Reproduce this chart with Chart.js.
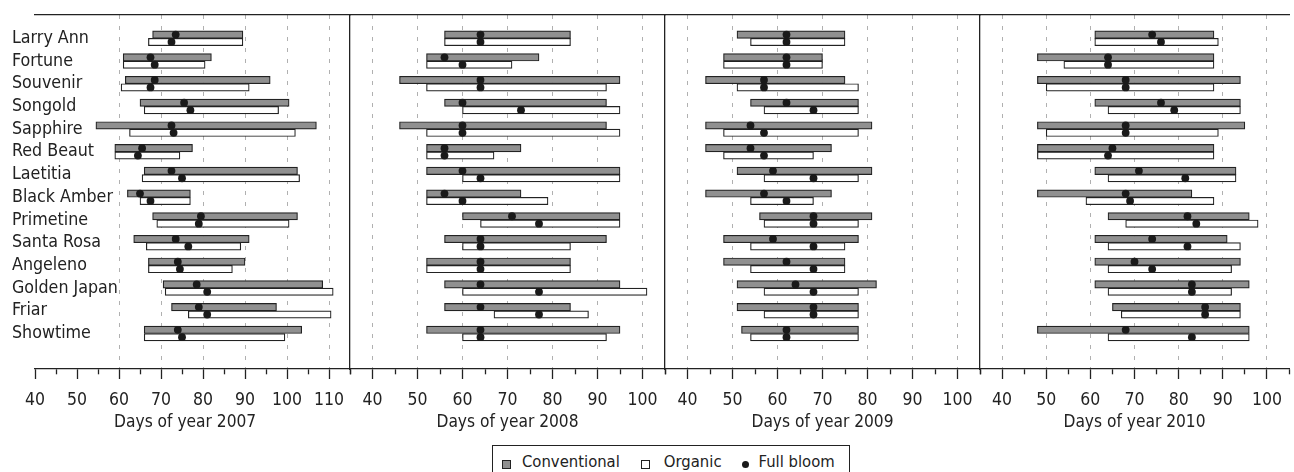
<!DOCTYPE html>
<html>
<head>
<meta charset="utf-8">
<script src="https://cdn.jsdelivr.net/npm/chart.js@4"></script>
<style>
  html, body { margin: 0; padding: 0; background: #fff; overflow: hidden; }
  #wrap { position: relative; width: 1294px; height: 472px; overflow: hidden; }
  #wrap canvas { position: absolute; left: 0; top: 0; }
  #legend {
    position: absolute; left: 492px; top: 445px; width: 358px; height: 32px;
    border: 1px solid #222; box-sizing: border-box; background: #fff;
    color: #222; display: flex; align-items: center; white-space: nowrap;
  }
  #legend span { flex-shrink: 0; }
  #legend .sq { width: 7px; height: 7px; border: 1px solid #222; position: relative; top: 3px; }
  #legend .dot { width: 7px; height: 7px; border-radius: 50%; background: #1a1a1a; position: relative; top: 3px; }
</style>
</head>
<body>
<div id="wrap">
  <canvas id="c2007" width="1300" height="472"></canvas>
  <canvas id="c2008" width="1300" height="472"></canvas>
  <canvas id="c2009" width="1300" height="472"></canvas>
  <canvas id="c2010" width="1300" height="472"></canvas>
  <div id="legend">
    <span class="sq" style="margin-left:9px;background:#909090"></span>
    <span style="margin-left:11px">Conventional</span>
    <span class="sq" style="margin-left:21px;background:#fff"></span>
    <span style="margin-left:14px">Organic</span>
    <span class="dot" style="margin-left:20px"></span>
    <span style="margin-left:10px">Full bloom</span>
  </div>
</div>
<script>
var varieties = ['Larry Ann', 'Fortune', 'Souvenir', 'Songold', 'Sapphire', 'Red Beaut', 'Laetitia',
  'Black Amber', 'Primetine', 'Santa Rosa', 'Angeleno', 'Golden Japan', 'Friar', 'Showtime'];

// bloom period (day of year), conventional vs organic, plus full bloom day
var conv2007Start = [68, 61, 61.5, 65, 54.5, 59, 66, 62, 68, 63.5, 67, 70.5, 72.5, 66];
var conv2007End = [89.5, 82, 96, 100.5, 107, 77.5, 102.5, 77, 102.5, 91, 90, 108.5, 97.5, 103.5];
var org2007Start = [67, 61, 60.5, 66, 62.5, 59, 65.5, 65, 69, 66.5, 67, 71, 76.5, 66];
var org2007End = [89.5, 80.5, 91, 98, 102, 74.5, 103, 77, 100.5, 89, 87, 111, 110.5, 99.5];
var bloomConv2007 = [73.5, 67.5, 68.5, 75.5, 72.5, 65.5, 72.5, 65, 79.5, 73.5, 74, 78.5, 79, 74];
var bloomOrg2007 = [72.5, 68.5, 67.5, 77, 73, 64.5, 75, 67.5, 79, 76.5, 74.5, 81, 81, 75];

var conv2008Start = [56, 52, 46, 56, 46, 52, 52, 52, 60, 56, 52, 56, 56, 52];
var conv2008End = [84, 77, 95, 92, 92, 73, 95, 73, 95, 92, 84, 95, 84, 95];
var org2008Start = [56, 52, 52, 60, 52, 52, 60, 52, 64, 60, 52, 60, 67, 60];
var org2008End = [84, 71, 92, 95, 95, 67, 95, 79, 95, 84, 84, 101, 88, 92];
var bloomConv2008 = [64, 56, 64, 60, 60, 56, 60, 56, 71, 64, 64, 64, 64, 64];
var bloomOrg2008 = [64, 60, 64, 73, 60, 56, 64, 60, 77, 64, 64, 77, 77, 64];

var conv2009Start = [51, 48, 44, 54, 44, 44, 51, 44, 56, 48, 48, 51, 51, 52];
var conv2009End = [75, 70, 75, 78, 81, 72, 81, 72, 81, 78, 75, 82, 78, 78];
var org2009Start = [54, 48, 51, 57, 48, 48, 57, 54, 57, 54, 54, 57, 57, 54];
var org2009End = [75, 70, 78, 78, 78, 68, 78, 68, 78, 75, 75, 78, 78, 78];
var bloomConv2009 = [62, 62, 57, 62, 54, 54, 59, 57, 68, 59, 62, 64, 68, 62];
var bloomOrg2009 = [62, 62, 57, 68, 57, 57, 68, 62, 68, 68, 68, 68, 68, 62];

var conv2010Start = [61, 48, 48, 61, 48, 48, 61, 48, 64, 61, 61, 61, 65, 48];
var conv2010End = [88, 88, 94, 94, 95, 88, 93, 83, 96, 91, 94, 96, 94, 96];
var org2010Start = [61, 54, 50, 64, 50, 48, 64, 59, 68, 64, 64, 64, 67, 64];
var org2010End = [89, 88, 88, 94, 89, 88, 93, 88, 98, 94, 92, 92, 94, 96];
var bloomConv2010 = [74, 64, 68, 76, 68, 65, 71, 68, 82, 74, 70, 83, 86, 68];
var bloomOrg2010 = [76, 64, 68, 79, 68, 64, 81.5, 69, 84, 82, 74, 83, 86, 83];

var INK = '#222';
var BAR_H = 7.4;      // px, each bar
var HALF = 0.163;     // half a bar, in row units (dots sit on their bar)

// the original uses a condensed regular sans; take the first narrow face that has a real regular weight
var probe = document.createElement('canvas').getContext('2d');
function widthOf(font, text) { probe.font = font; return probe.measureText(text).width; }
function pickFont(cands) {
  var t = 'Golden Japan 2007';
  var base = widthOf('100px monospace', t);
  for (var i = 0; i < cands.length; i++) {
    var f = '"' + cands[i] + '", monospace';
    var w = widthOf('100px ' + f, t);
    var wb = widthOf('bold 100px ' + f, t);
    if (Math.abs(w - base) > 1 && Math.abs(wb - w) > 1) return cands[i];
  }
  return 'Liberation Sans';
}
var FAM = pickFont(['Liberation Sans Narrow', 'Arial Narrow', 'Noto Sans Condensed', 'Noto Sans SemiCondensed',
  'DejaVu Sans Condensed']);
var FONT = '"' + FAM + '", "Liberation Sans", sans-serif';
// size each text so its width matches the picture
function fit(text, width) {
  return Math.round(1000 * width / widthOf('100px ' + FONT, text)) / 10;
}
var nameSize = fit('Golden Japan', 106);
var tickSize = fit('100', 30);
var titleSize = fit('Days of year 2007', 142);
var legendSize = fit('Conventional', 98);
// first title sits a little left of its panel centre
var pad2007 = '';
while (widthOf(titleSize + 'px ' + FONT, pad2007 + '\u00a0') < 17) pad2007 += '\u00a0';

Chart.defaults.font.family = FONT;
Chart.defaults.color = INK;
document.getElementById('legend').style.font = legendSize + 'px ' + FONT;

function bars(start, end) {
  return start.map(function (s, i) { return { x: [s, end[i]], y: i }; });
}
function dots(vals, shift) {
  return vals.map(function (v, i) { return { x: v, y: i + shift }; });
}

function makePanel(id, title, p, s) {
  var config = {
    type: 'bar',
    data: {
      datasets: [{
        label: 'Conventional',
        data: bars(s.convStart, s.convEnd),
        backgroundColor: '#909090',
        borderColor: INK,
        borderWidth: 1.2,
        borderSkipped: false,
        barThickness: BAR_H,
        order: 1,
        xAxisID: 'x', yAxisID: 'y'
      }, {
        label: 'Organic',
        data: bars(s.orgStart, s.orgEnd),
        backgroundColor: '#ffffff',
        borderColor: INK,
        borderWidth: 1.2,
        borderSkipped: false,
        barThickness: BAR_H,
        order: 1,
        xAxisID: 'x', yAxisID: 'y'
      }, {
        type: 'scatter',
        label: 'Full bloom',
        data: dots(s.bloomConv, -HALF),
        pointRadius: 3.9,
        pointBackgroundColor: '#1a1a1a',
        pointBorderWidth: 0,
        order: 0,
        xAxisID: 'x', yAxisID: 'y'
      }, {
        type: 'scatter',
        label: 'Full bloom (organic)',
        data: dots(s.bloomOrg, HALF),
        pointRadius: 3.9,
        pointBackgroundColor: '#1a1a1a',
        pointBorderWidth: 0,
        order: 0,
        xAxisID: 'x', yAxisID: 'y'
      }]
    },
    options: {
      indexAxis: 'y',
      responsive: false,
      animation: false,
      devicePixelRatio: 1,
      layout: { padding: { left: p.left, right: 1300 - p.right, top: 15, bottom: 0 } },
      plugins: {
        legend: { display: false },
        tooltip: { enabled: false }
      },
      scales: {
        x: {
          type: 'linear',
          position: 'bottom',
          offset: false,
          min: p.min,
          max: p.max,
          afterFit: function (sc) { sc.height = 103; },
          ticks: {
            stepSize: 5,
            autoSkip: false,
            maxRotation: 0,
            padding: 11,
            color: INK,
            font: { size: tickSize },
            callback: function (v) { return v % 10 === 0 ? String(v) : ''; }
          },
          grid: {
            offset: false,
            lineWidth: 1,
            tickLength: 10,
            tickWidth: 1.3,
            tickColor: INK,
            color: function (c) {
              var v = c.tick ? c.tick.value : 0;
              return (v % 10 === 0 && v >= p.gridFrom) ? '#b0b0b0' : 'rgba(0,0,0,0)';
            },
            tickBorderDash: function (c) {
              return (c.tick && c.tick.value % 10 === 0) ? [] : [5, 30];
            }
          },
          border: { display: true, color: INK, width: 1.3, dash: [4, 7] },
          title: {
            display: true,
            text: title,
            color: INK,
            font: { size: titleSize },
            padding: { top: 0, bottom: 39 }
          }
        },
        xt: {
          type: 'linear',
          position: 'top',
          offset: false,
          min: p.min,
          max: p.max,
          afterFit: function (sc) { sc.height = 0; },
          ticks: { display: false },
          grid: { display: false },
          border: { display: true, color: INK, width: 1.3 }
        },
        y: {
          type: 'linear',
          reverse: true,
          offset: false,
          min: -1.026,
          max: 14.563,
          afterFit: function (sc) { sc.width = 0; },
          grid: { display: false, drawTicks: false, offset: false },
          border: { display: p.leftBorder, color: INK, width: 1.3 },
          ticks: {
            display: p.names,
            stepSize: 1,
            autoSkip: false,
            includeBounds: false,
            mirror: true,
            padding: 12 - p.left,
            color: INK,
            font: { size: nameSize },
            callback: function (v) { return varieties[v]; }
          }
        }
      }
    }
  };

  new Chart(document.getElementById(id), config);
}

makePanel('c2007', 'Days of year 2007' + pad2007, { left: 35, right: 350, min: 40, max: 115, gridFrom: 60, names: true, leftBorder: false },
  { convStart: conv2007Start, convEnd: conv2007End, orgStart: org2007Start, orgEnd: org2007End, bloomConv: bloomConv2007, bloomOrg: bloomOrg2007 });
makePanel('c2008', 'Days of year 2008', { left: 350, right: 665, min: 35, max: 105, gridFrom: 40, names: false, leftBorder: true },
  { convStart: conv2008Start, convEnd: conv2008End, orgStart: org2008Start, orgEnd: org2008End, bloomConv: bloomConv2008, bloomOrg: bloomOrg2008 });
makePanel('c2009', 'Days of year 2009', { left: 665, right: 980, min: 35, max: 105, gridFrom: 40, names: false, leftBorder: true },
  { convStart: conv2009Start, convEnd: conv2009End, orgStart: org2009Start, orgEnd: org2009End, bloomConv: bloomConv2009, bloomOrg: bloomOrg2009 });
makePanel('c2010', 'Days of year 2010', { left: 980, right: 1296, min: 35, max: 105, gridFrom: 40, names: false, leftBorder: true },
  { convStart: conv2010Start, convEnd: conv2010End, orgStart: org2010Start, orgEnd: org2010End, bloomConv: bloomConv2010, bloomOrg: bloomOrg2010 });
</script>
</body>
</html>
